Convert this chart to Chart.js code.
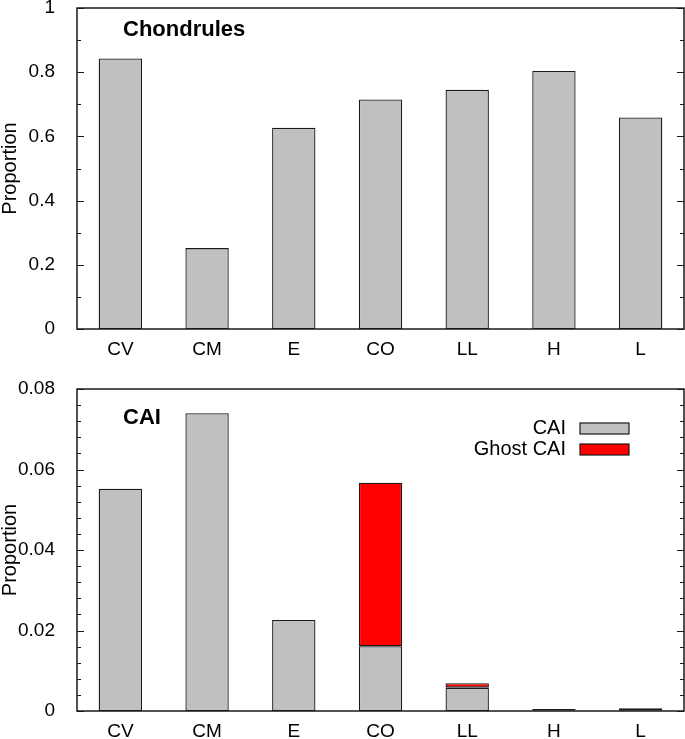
<!DOCTYPE html>
<html>
<head>
<meta charset="utf-8">
<script src="https://cdn.jsdelivr.net/npm/chart.js@4"></script>
<style>
  html, body { margin: 0; padding: 0; background: #fff; }
  canvas { display: block; }
</style>
</head>
<body>
<canvas id="topChart" width="685" height="370"></canvas>
<canvas id="bottomChart" width="685" height="369"></canvas>
<script>
/* ===== dados ===== */
const categorias = ["CV", "CM", "E", "CO", "LL", "H", "L"];
const chondrules = [0.843, 0.252, 0.627, 0.715, 0.745, 0.804, 0.659];
const cai = [0.0552, 0.0740, 0.0226, 0.0161, 0.0058, 0.0001, 0.0001];
const ghostCai = [0, 0, 0, 0.0406, 0.0011, 0.0004, 0.0006];
const ticksTopo = [0, 0.2, 0.4, 0.6, 0.8, 1];
const ticksBaixo = [0, 0.02, 0.04, 0.06, 0.08];

/* ===== estilo ===== */
const FONTE = "'Liberation Sans', Arial, sans-serif";
const CINZA = "#c0c0c0";
const VERMELHO = "#ff0000";
const BORDA = "#1a1a1a";

// moldura + ticks para dentro (esquerda e direita)
const molduraPlugin = {
  id: "moldura",
  afterDatasetsDraw(chart, args, opts) {
    const { ctx, chartArea: a } = chart;
    const y = chart.scales.y;
    ctx.save();
    ctx.strokeStyle = BORDA;
    ctx.lineWidth = 1;
    const passo = opts.minor;
    const n = Math.round((y.max - y.min) / passo);
    for (let i = 0; i <= n; i++) {
      const v = y.min + i * passo;
      const py = Math.round(y.getPixelForValue(v)) + 0.5;
      const major = opts.majors.some(m => Math.abs(m - v) < passo / 10);
      const len = major ? 7 : 4;
      ctx.beginPath();
      ctx.moveTo(a.left, py); ctx.lineTo(a.left + len, py);
      ctx.moveTo(a.right, py); ctx.lineTo(a.right - len, py);
      ctx.stroke();
    }
    ctx.lineWidth = 1.5;
    ctx.strokeRect(a.left, a.top, a.right - a.left, a.bottom - a.top);
    ctx.restore();
  }
};

// titulo do painel
const rotuloPlugin = {
  id: "rotulo",
  afterDraw(chart, args, opts) {
    const ctx = chart.ctx;
    ctx.save();
    ctx.font = "bold 22px " + FONTE;
    ctx.fillStyle = "#000";
    ctx.textAlign = "left";
    ctx.textBaseline = "middle";
    ctx.fillText(opts.text, opts.x, opts.y);
    ctx.restore();
  }
};

// legenda: texto a esquerda, caixa a direita
const legendaPlugin = {
  id: "legenda",
  afterDraw(chart, args, opts) {
    if (!opts.show) return;
    const ctx = chart.ctx;
    ctx.save();
    ctx.font = "20px " + FONTE;
    ctx.textAlign = "right";
    ctx.textBaseline = "middle";
    chart.data.datasets.forEach((ds, i) => {
      const py = opts.y + i * 21;
      ctx.fillStyle = "#000";
      ctx.fillText(ds.label, opts.x, py);
      ctx.fillStyle = ds.backgroundColor;
      ctx.fillRect(opts.x + 14, py - 5, 49, 11);
      ctx.strokeStyle = BORDA;
      ctx.lineWidth = 1.2;
      ctx.strokeRect(opts.x + 14, py - 5, 49, 11);
    });
    ctx.restore();
  }
};

function formatar(v) {
  return String(+v.toFixed(3));
}

function opcoes(max, majors, minor, alturaX, topo, titulo, tituloY, legenda) {
  return {
    responsive: false,
    animation: false,
    layout: { padding: { left: 0, right: 1, top: topo, bottom: 0 } },
    plugins: {
      legend: { display: false },
      tooltip: { enabled: false },
      moldura: { minor, majors },
      rotulo: { text: titulo, x: 123, y: tituloY },
      legenda: legenda
    },
    scales: {
      x: {
        stacked: true,
        grid: { display: false },
        border: { display: false },
        ticks: { color: "#000", padding: 1, font: { family: FONTE, size: 19 } },
        afterFit(s) { s.height = alturaX; }
      },
      y: {
        stacked: true,
        min: 0,
        max: max,
        afterBuildTicks(s) { s.ticks = majors.map(v => ({ value: v })); },
        grid: { display: false },
        border: { display: false },
        ticks: {
          color: "#000",
          padding: 14,
          font: { family: FONTE, size: 19, lineHeight: 1 },
          callback: v => formatar(v)
        },
        title: {
          display: true,
          text: "Proportion",
          color: "#000",
          font: { family: FONTE, size: 20, lineHeight: 1 },
          padding: { top: 0, bottom: 0 }
        },
        afterFit(s) {
          s.width = 77;
          s.paddingTop = 0;
          s.paddingBottom = 0;
        }
      }
    }
  };
}

const estiloBarra = {
  borderColor: BORDA,
  borderWidth: 1.3,
  borderSkipped: false,
  categoryPercentage: 1,
  barPercentage: 0.5
};

new Chart(document.getElementById("topChart"), {
  type: "bar",
  data: {
    labels: categorias,
    datasets: [
      Object.assign({ label: "Chondrules", data: chondrules, backgroundColor: CINZA }, estiloBarra)
    ]
  },
  options: opcoes(1, ticksTopo, 0.1, 41, 8, "Chondrules", 30, { show: false }),
  plugins: [molduraPlugin, rotuloPlugin, legendaPlugin]
});

new Chart(document.getElementById("bottomChart"), {
  type: "bar",
  data: {
    labels: categorias,
    datasets: [
      Object.assign({ label: "CAI", data: cai, backgroundColor: CINZA }, estiloBarra),
      Object.assign({ label: "Ghost CAI", data: ghostCai, backgroundColor: VERMELHO }, estiloBarra)
    ]
  },
  options: opcoes(0.08, ticksBaixo, 0.004, 28, 19, "CAI", 48, { show: true, x: 566, y: 58 }),
  plugins: [molduraPlugin, rotuloPlugin, legendaPlugin]
});
</script>
</body>
</html>
